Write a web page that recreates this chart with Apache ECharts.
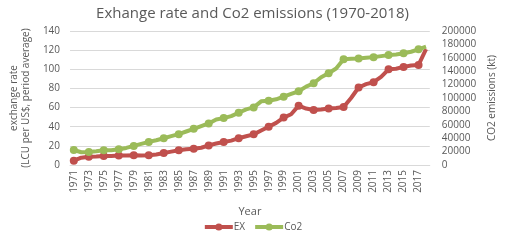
<!DOCTYPE html>
<html><head><meta charset="utf-8">
<script src="https://cdn.jsdelivr.net/npm/echarts@6/dist/echarts.min.js"></script>
<style>html,body{margin:0;padding:0;background:#fff}#c{width:505px;height:243px}</style>
</head><body><div id="c"></div>
<script>
var years = [];
for (var y = 1971; y <= 2018; y++) years.push(String(y));
var exRate = [4.5,7.6,8.7,9.0,9.5,9.5,9.8,10.0,10.2,10.0,10.3,11.0,12.5,14.0,15.5,16.5,17.0,18.0,20.5,22.5,24.0,25.5,28.0,30.0,32.0,36.0,40.0,44.0,49.5,53.0,62.0,59.0,57.5,58.0,59.0,59.5,60.5,70.0,81.0,84.5,86.5,92.0,100.0,100.5,102.5,104.0,104.5,121.0];
var co2 = [22400,19000,19500,20500,22000,22000,23500,25500,28500,31500,34500,37000,40000,43000,46000,50000,54000,58000,62000,68000,70000,73000,78000,83000,86000,95000,96000,98000,102000,106000,110000,117000,122000,131000,137000,144000,157700,158500,159000,160000,161000,162500,164000,165000,166700,169000,172600,176600];
var leftTicks = {min:0, max:140, interval:20};
var rightTicks = {min:0, max:200000, interval:20000};
var FONT = 'Open Sans';
var GREY = '#595959';
var chart = echarts.init(document.getElementById('c'));
chart.setOption({
  animation:false,
  title:{text:'Exhange rate and Co2 emissions (1970-2018)', left:'center', top:1,
    textStyle:{fontFamily:FONT, fontSize:15, fontWeight:'normal', color:GREY}},
  grid:{left:58, right:62, top:31, bottom:78},
  legend:{bottom:6, left:'center', itemWidth:28, itemHeight:9, itemGap:8,
    lineStyle:{width:4},
    textStyle:{fontFamily:FONT, fontSize:10, color:GREY, padding:[0,0,0,-4]},
    data:['EX','Co2']},
  xAxis:{type:'category', data:years, boundaryGap:true,
    name:'Year', nameLocation:'middle', nameGap:41,
    nameTextStyle:{fontFamily:FONT, fontSize:11, color:GREY},
    axisLine:{lineStyle:{color:'#d9d9d9'}}, axisTick:{show:false},
    axisLabel:{rotate:90, interval:1, fontFamily:FONT, fontSize:10, color:GREY, margin:5}},
  yAxis:[
    {type:'value', min:leftTicks.min, max:leftTicks.max, interval:leftTicks.interval,
     name:'exchange rate\n(LCU per US$, period average)', nameLocation:'middle', nameGap:32,
     nameTextStyle:{fontFamily:FONT, fontSize:10, color:GREY, lineHeight:12},
     axisLabel:{fontFamily:FONT, fontSize:10, color:GREY, margin:10},
     splitLine:{lineStyle:{color:'#d9d9d9', width:1}}, axisLine:{show:false}, axisTick:{show:false}},
    {type:'value', min:rightTicks.min, max:rightTicks.max, interval:rightTicks.interval,
     name:'CO2 emissions (kt)', nameLocation:'middle', nameGap:48, nameRotate:90,
     nameTextStyle:{fontFamily:FONT, fontSize:10, color:GREY},
     axisLabel:{fontFamily:FONT, fontSize:10, color:GREY, margin:12,
       formatter:function(v){return String(v);}},
     splitLine:{show:false}, axisLine:{show:false}, axisTick:{show:false}}
  ],
  series:[
    {name:'EX', type:'line', yAxisIndex:0, data:exRate, symbol:'circle', symbolSize:8,
     lineStyle:{color:'#C0504D', width:4}, itemStyle:{color:'#C0504D'}},
    {name:'Co2', type:'line', yAxisIndex:1, data:co2, symbol:'circle', symbolSize:8,
     lineStyle:{color:'#9BBB59', width:4}, itemStyle:{color:'#9BBB59'}}
  ]
});
</script></body></html>
